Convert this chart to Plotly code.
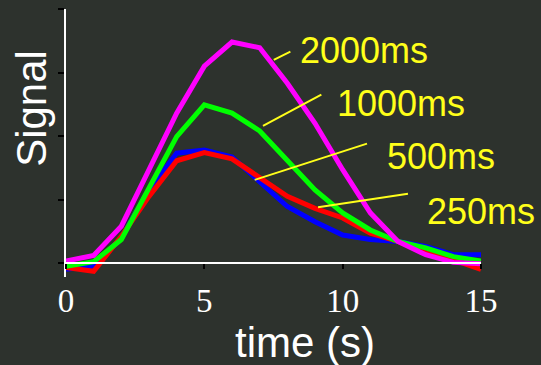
import plotly.graph_objects as go

time_s = list(range(16))
sig_2000 = [0.03, 0.12, 0.58, 1.46, 2.36, 3.10, 3.48, 3.39, 2.83, 2.20, 1.47, 0.79, 0.34, 0.13, 0.01, -0.01]
sig_1000 = [-0.05, 0.02, 0.37, 1.18, 1.99, 2.49, 2.36, 2.08, 1.62, 1.15, 0.79, 0.52, 0.34, 0.24, 0.10, 0.03]
sig_500 = [-0.07, -0.13, 0.42, 1.05, 1.61, 1.74, 1.64, 1.34, 1.05, 0.86, 0.71, 0.47, 0.34, 0.16, 0.05, -0.10]
sig_250 = [-0.10, -0.05, 0.40, 1.15, 1.73, 1.78, 1.67, 1.28, 0.89, 0.65, 0.44, 0.37, 0.34, 0.26, 0.13, 0.13]

series_names = ["2000ms", "1000ms", "500ms", "250ms"]
series_colors = ["#ff00ff", "#00ff00", "#ff0000", "#0000ff"]
x_ticks = [0, 5, 10, 15]
y_ticks = [0, 1, 2, 3, 4]

# label positions (paper) and pointer lines (data coords)
label_x = [0.558, 0.647, 0.768, 0.866]
label_y = [0.845, 0.648, 0.450, 0.245]
ptr_x0 = [7.51, 7.12, 6.82, 9.11]
ptr_y0 = [3.20, 2.16, 1.31, 0.88]
ptr_x1 = [8.11, 9.23, 10.88, 12.36]
ptr_y1 = [3.33, 2.65, 1.88, 1.09]

BG = "#2d322d"
fig = go.Figure()
# draw order: blue/red under green under magenta
for name, vals, col in reversed(list(zip(series_names, [sig_2000, sig_1000, sig_500, sig_250], series_colors))):
    fig.add_trace(go.Scatter(x=time_s, y=vals, mode="lines", name=name,
                             line=dict(color=col, width=5), showlegend=False))

for i, name in enumerate(series_names):
    fig.add_annotation(x=label_x[i], y=label_y[i], xref="paper", yref="paper",
                       text=name, showarrow=False, xanchor="left", yanchor="middle",
                       font=dict(family="Liberation Sans, Arial", size=36, color="#ffff1a"))
    fig.add_shape(type="line", x0=ptr_x0[i], y0=ptr_y0[i], x1=ptr_x1[i], y1=ptr_y1[i],
                  xref="x", yref="y", line=dict(color="#ffff1a", width=2), layer="above")

fig.add_annotation(x=-0.082, y=0.631, xref="paper", yref="paper", text="Signal",
                   textangle=-90, showarrow=False, xanchor="center", yanchor="middle",
                   font=dict(family="Liberation Sans, Arial", size=42, color="white"))
fig.add_annotation(x=0.577, y=-0.245, xref="paper", yref="paper", text="time (s)",
                   showarrow=False, xanchor="center", yanchor="middle",
                   font=dict(family="Liberation Sans, Arial", size=42, color="white"))

ymin, ymax = -0.22, 4.0
fig.update_layout(
    width=541, height=365,
    margin=dict(l=66, r=59.5, t=9, b=87.7),
    paper_bgcolor=BG, plot_bgcolor=BG,
    xaxis=dict(range=[0, 15], tickvals=x_ticks, showgrid=False, zeroline=False,
               anchor="free", position=(0 - ymin) / (ymax - ymin),
               showline=True, linecolor="white", linewidth=2,
               ticks="outside", ticklen=5, tickwidth=2, tickcolor="black",
               ticklabelstandoff=3,
               tickfont=dict(family="Liberation Serif, Times New Roman", size=33, color="white")),
    yaxis=dict(range=[ymin, ymax], tickvals=y_ticks, showticklabels=False,
               showgrid=False, zeroline=False, showline=True, linecolor="white", linewidth=2,
               ticks="outside", ticklen=6, tickwidth=2, tickcolor="black"),
)
fig.write_html("out.html", config={"displayModeBar": False},
               post_script="document.body.style.margin='0';document.body.style.overflow='hidden';")
